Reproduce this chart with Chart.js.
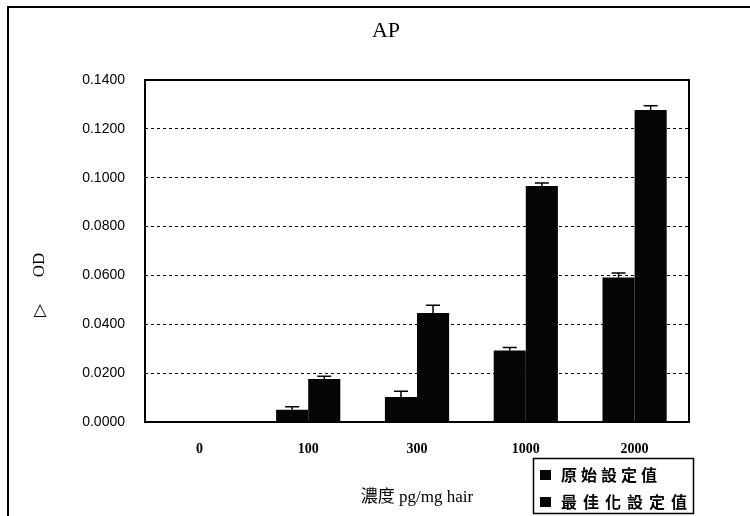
<!DOCTYPE html>
<html>
<head>
<meta charset="utf-8">
<script src="https://cdn.jsdelivr.net/npm/chart.js@4/dist/chart.umd.min.js"></script>
<style>
  html, body { margin: 0; padding: 0; background: #fff; overflow: hidden; }
  #wrap { position: relative; width: 750px; height: 516px; }
  #frame { position: absolute; left: 7px; top: 6px; width: 800px; height: 600px; border: 2px solid #000; box-sizing: border-box; pointer-events: none; }
  canvas { position: absolute; left: 0; top: 0; }
</style>
</head>
<body>
<div id="wrap">
  <canvas id="c" width="750" height="516"></canvas>
  <div id="frame"></div>
</div>
<script>
const chartTitle = 'AP';
const categories = ['0', '100', '300', '1000', '2000'];
const seriesNames = ['原始設定值', '最佳化設定值'];
const originalValues = [0, 0.0050, 0.0102, 0.0293, 0.0592];
const optimizedValues = [0, 0.0176, 0.0446, 0.0966, 0.1277];
const originalErrors = [0, 0.0012, 0.0024, 0.0012, 0.0018];
const optimizedErrors = [0, 0.0011, 0.0032, 0.0012, 0.0018];
const yTickMin = 0, yTickMax = 0.14, yTickStep = 0.02;
const xAxisTitle = '濃度 pg/mg hair';
const yAxisTitle = 'OD';
const yAxisSymbol = '△';

const errorBars = {
  id: 'errorBars',
  afterDatasetsDraw(chart) {
    const ctx = chart.ctx, y = chart.scales.y;
    ctx.save();
    ctx.strokeStyle = '#000';
    ctx.lineWidth = 1.5;
    chart.data.datasets.forEach((ds, i) => {
      const meta = chart.getDatasetMeta(i);
      meta.data.forEach((bar, j) => {
        const v = ds.data[j], e = ds.errors[j];
        if (!e) return;
        const yTop = y.getPixelForValue(v + e);
        const yBot = y.getPixelForValue(v);
        ctx.beginPath();
        ctx.moveTo(bar.x, yBot); ctx.lineTo(bar.x, yTop);
        ctx.moveTo(bar.x - 7, yTop); ctx.lineTo(bar.x + 7, yTop);
        ctx.stroke();
      });
    });
    ctx.restore();
  }
};

const decor = {
  id: 'decor',
  afterDraw(chart) {
    const ctx = chart.ctx, a = chart.chartArea;
    ctx.save();
    // plot frame
    ctx.strokeStyle = '#000';
    ctx.lineWidth = 2;
    ctx.strokeRect(a.left, a.top, a.right - a.left, a.bottom - a.top);
    // title
    ctx.fillStyle = '#000';
    ctx.font = '22px "Liberation Serif"';
    ctx.textAlign = 'center';
    ctx.textBaseline = 'alphabetic';
    ctx.fillText(chartTitle, 386, 37);
    // y axis title
    ctx.save();
    ctx.translate(40, 265);
    ctx.rotate(-Math.PI / 2);
    ctx.font = '17px "Liberation Serif"';
    ctx.textBaseline = 'middle';
    ctx.fillText(yAxisTitle, 0, 0);
    ctx.restore();
    ctx.font = '17px "DejaVu Sans"';
    ctx.textBaseline = 'middle';
    ctx.fillText(yAxisSymbol, 40, 311);
    // legend
    ctx.lineWidth = 1.5;
    ctx.strokeRect(533.5, 458.5, 160, 55);
    const rows = [{y: 475, adv: 20}, {y: 502, adv: 22}];
    chart.data.datasets.forEach((ds, i) => {
      const r = rows[i];
      ctx.fillStyle = ds.backgroundColor;
      ctx.fillRect(540, r.y - 5, 11, 10);
      ctx.fillStyle = '#000';
      ctx.font = 'bold 16px "Noto Sans CJK TC"';
      ctx.textAlign = 'left';
      ctx.textBaseline = 'middle';
      [...ds.label].forEach((ch, k) => ctx.fillText(ch, 561 + k * r.adv, r.y));
    });
    ctx.restore();
  }
};

new Chart(document.getElementById('c'), {
  type: 'bar',
  data: {
    labels: categories,
    datasets: [
      { label: seriesNames[0], data: originalValues, errors: originalErrors, backgroundColor: '#050505', borderWidth: 0 },
      { label: seriesNames[1], data: optimizedValues, errors: optimizedErrors, backgroundColor: '#050505', borderWidth: 0 }
    ]
  },
  options: {
    responsive: false,
    animation: false,
    devicePixelRatio: 1,
    layout: { padding: { top: 80, left: 0, right: 61, bottom: 0 } },
    categoryPercentage: 0.59,
    barPercentage: 1.0,
    plugins: { legend: { display: false }, title: { display: false }, tooltip: { enabled: false } },
    scales: {
      x: {
        grid: { display: false, drawTicks: false },
        border: { display: false },
        ticks: { color: '#000', font: { family: 'Liberation Serif', size: 14, weight: 'bold' }, padding: 19 },
        title: { display: true, text: xAxisTitle, color: '#000', font: { family: '"Liberation Serif", "Noto Sans CJK TC"', size: 17 }, padding: { top: 0, bottom: 8 } },
        afterFit(s) { s.height = 94; }
      },
      y: {
        min: yTickMin, max: yTickMax,
        grid: { color: '#000', lineWidth: 1, drawTicks: false },
        border: { display: false, dash: [3, 3] },
        ticks: { stepSize: yTickStep, color: '#000', font: { family: 'Liberation Sans', size: 14 }, padding: 20, callback: v => Number(v).toFixed(4) },
        afterFit(s) { s.width = 145; }
      }
    }
  },
  plugins: [errorBars, decor]
});
</script>
</body>
</html>
